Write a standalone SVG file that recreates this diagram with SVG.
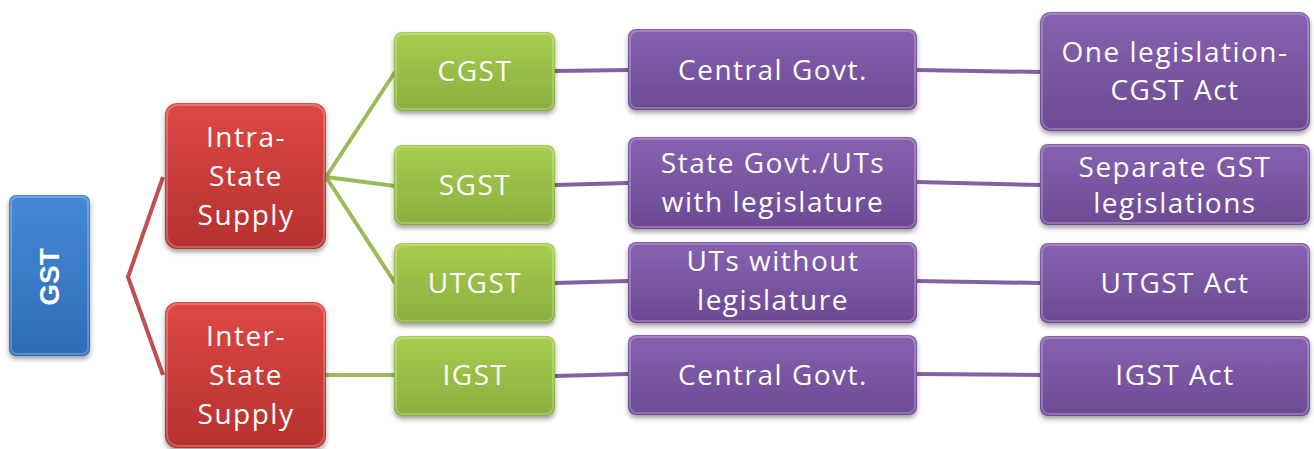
<svg xmlns="http://www.w3.org/2000/svg" width="1314" height="449" viewBox="0 0 1314 449">
  <defs>
    <linearGradient id="gBlue" x1="0" y1="0" x2="0" y2="1">
      <stop offset="0" stop-color="#4689d6"/>
      <stop offset="1" stop-color="#2f6cb6"/>
    </linearGradient>
    <linearGradient id="gRed" x1="0" y1="0" x2="0" y2="1">
      <stop offset="0" stop-color="#de4845"/>
      <stop offset="1" stop-color="#b5312f"/>
    </linearGradient>
    <linearGradient id="gGreen" x1="0" y1="0" x2="0" y2="1">
      <stop offset="0" stop-color="#a7cd50"/>
      <stop offset="1" stop-color="#8aae3e"/>
    </linearGradient>
    <linearGradient id="gPurple" x1="0" y1="0" x2="0" y2="1">
      <stop offset="0" stop-color="#8662b0"/>
      <stop offset="1" stop-color="#6c4a93"/>
    </linearGradient>
    <filter id="shadow" x="-10%" y="-10%" width="120%" height="130%">
      <feDropShadow dx="0" dy="3" stdDeviation="2.5" flood-color="#000" flood-opacity="0.38"/>
    </filter>
    <style>
      .box { filter: url(#shadow); }
      .blue { fill: url(#gBlue); }
      .red { fill: url(#gRed); }
      .green { fill: url(#gGreen); }
      .purple { fill: url(#gPurple); }
      .hl { fill: none; stroke: #ffffff; stroke-opacity: 0.22; stroke-width: 2; }
      .lbl { font-family: "Open Sans", "DejaVu Sans", sans-serif; font-size: 28px; letter-spacing: 1.5px; fill: #ffffff; text-anchor: middle; }
      .gst { font-family: "Liberation Sans", Arial, sans-serif; font-weight: bold; font-size: 28px; fill: #ffffff; text-anchor: middle; }
      .cRed { stroke: #c0504d; stroke-width: 4; fill: none; }
      .cGreen { stroke: #9bbb59; stroke-width: 4; fill: none; }
      .cPurple { stroke: #8064a2; stroke-width: 4; fill: none; }
    </style>
  </defs>

  <g id="connectors">
    <polyline class="cRed" points="163,177 128,277 163,375"/>
    <line class="cGreen" x1="326" y1="177" x2="395" y2="72"/>
    <line class="cGreen" x1="326" y1="177" x2="395" y2="186"/>
    <line class="cGreen" x1="326" y1="177" x2="395" y2="283"/>
    <line class="cGreen" x1="326" y1="375" x2="395" y2="375"/>
    <line class="cPurple" x1="555" y1="71" x2="628" y2="70"/>
    <line class="cPurple" x1="917" y1="70" x2="1040" y2="72"/>
    <line class="cPurple" x1="555" y1="185" x2="628" y2="183"/>
    <line class="cPurple" x1="917" y1="182" x2="1040" y2="185"/>
    <line class="cPurple" x1="555" y1="283" x2="628" y2="281"/>
    <line class="cPurple" x1="917" y1="281" x2="1040" y2="283"/>
    <line class="cPurple" x1="555" y1="376" x2="628" y2="374"/>
    <line class="cPurple" x1="917" y1="374" x2="1040" y2="375"/>
  </g>

  <g id="gst">
    <rect class="box blue" x="9" y="195" width="81" height="161" rx="7"/>
    <rect class="hl" x="11" y="197" width="77" height="157" rx="6"/>
    <text class="gst" transform="translate(59,277) rotate(-90)" x="0" y="0">GST</text>
  </g>

  <g id="intra-state">
    <rect class="box red" x="165" y="103" width="161" height="146" rx="12"/>
    <rect class="hl" x="167" y="105" width="157" height="142" rx="11"/>
    <text class="lbl" x="246" y="147">Intra-</text>
    <text class="lbl" x="246" y="186">State</text>
    <text class="lbl" x="246" y="225">Supply</text>
  </g>

  <g id="inter-state">
    <rect class="box red" x="165" y="302" width="161" height="146" rx="12"/>
    <rect class="hl" x="167" y="304" width="157" height="142" rx="11"/>
    <text class="lbl" x="246" y="346">Inter-</text>
    <text class="lbl" x="246" y="385">State</text>
    <text class="lbl" x="246" y="424">Supply</text>
  </g>

  <g id="cgst">
    <rect class="box green" x="394" y="32" width="161" height="79" rx="8"/>
    <rect class="hl" x="396" y="34" width="157" height="75" rx="7"/>
    <text class="lbl" x="475" y="81">CGST</text>
  </g>
  <g id="sgst">
    <rect class="box green" x="394" y="145" width="161" height="80" rx="8"/>
    <rect class="hl" x="396" y="147" width="157" height="76" rx="7"/>
    <text class="lbl" x="475" y="195">SGST</text>
  </g>
  <g id="utgst">
    <rect class="box green" x="394" y="243" width="161" height="80" rx="8"/>
    <rect class="hl" x="396" y="245" width="157" height="76" rx="7"/>
    <text class="lbl" x="475" y="293">UTGST</text>
  </g>
  <g id="igst">
    <rect class="box green" x="394" y="336" width="161" height="80" rx="8"/>
    <rect class="hl" x="396" y="338" width="157" height="76" rx="7"/>
    <text class="lbl" x="475" y="385">IGST</text>
  </g>

  <g id="central-govt-1">
    <rect class="box purple" x="628" y="29" width="289" height="81" rx="8"/>
    <rect class="hl" x="630" y="31" width="285" height="77" rx="7"/>
    <text class="lbl" x="773" y="80">Central Govt.</text>
  </g>
  <g id="state-govt">
    <rect class="box purple" x="628" y="137" width="289" height="92" rx="8"/>
    <rect class="hl" x="630" y="139" width="285" height="88" rx="7"/>
    <text class="lbl" x="773" y="173">State Govt./UTs</text>
    <text class="lbl" x="773" y="212">with legislature</text>
  </g>
  <g id="uts-without">
    <rect class="box purple" x="628" y="242" width="289" height="81" rx="8"/>
    <rect class="hl" x="630" y="244" width="285" height="77" rx="7"/>
    <text class="lbl" x="773" y="271">UTs without</text>
    <text class="lbl" x="773" y="310">legislature</text>
  </g>
  <g id="central-govt-2">
    <rect class="box purple" x="628" y="335" width="289" height="80" rx="8"/>
    <rect class="hl" x="630" y="337" width="285" height="76" rx="7"/>
    <text class="lbl" x="773" y="385">Central Govt.</text>
  </g>

  <g id="cgst-act">
    <rect class="box purple" x="1040" y="12" width="270" height="119" rx="10"/>
    <rect class="hl" x="1042" y="14" width="266" height="115" rx="9"/>
    <text class="lbl" x="1175" y="62">One legislation-</text>
    <text class="lbl" x="1175" y="100">CGST Act</text>
  </g>
  <g id="separate-gst">
    <rect class="box purple" x="1040" y="144" width="270" height="81" rx="8"/>
    <rect class="hl" x="1042" y="146" width="266" height="77" rx="7"/>
    <text class="lbl" x="1175" y="177">Separate GST</text>
    <text class="lbl" x="1175" y="213">legislations</text>
  </g>
  <g id="utgst-act">
    <rect class="box purple" x="1040" y="243" width="270" height="80" rx="8"/>
    <rect class="hl" x="1042" y="245" width="266" height="76" rx="7"/>
    <text class="lbl" x="1175" y="293">UTGST Act</text>
  </g>
  <g id="igst-act">
    <rect class="box purple" x="1040" y="336" width="270" height="80" rx="8"/>
    <rect class="hl" x="1042" y="338" width="266" height="76" rx="7"/>
    <text class="lbl" x="1175" y="385">IGST Act</text>
  </g>
</svg>
